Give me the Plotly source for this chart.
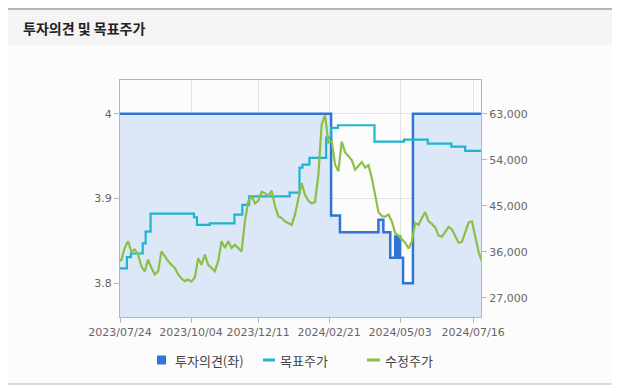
import plotly.graph_objects as go
import pandas as pd

# ---------------- data ----------------
opinion_dates = ["2023-07-24", "2024-02-23", "2024-03-03", "2024-04-11", "2024-04-16",
                 "2024-04-23", "2024-04-28", "2024-04-29", "2024-04-30", "2024-05-01",
                 "2024-05-02", "2024-05-03", "2024-05-06", "2024-05-16", "2024-07-24"]
opinion_values = [4.0, 3.88, 3.86, 3.875, 3.86,
                  3.83, 3.855, 3.83, 3.855, 3.83,
                  3.855, 3.83, 3.80, 4.0, 4.0]

target_dates = ["2023-07-24", "2023-07-31", "2023-08-04", "2023-08-16", "2023-08-19",
                "2023-08-24", "2023-10-07", "2023-10-10", "2023-10-23", "2023-11-17",
                "2023-11-25", "2023-12-02", "2024-01-12", "2024-01-22", "2024-01-25",
                "2024-02-01", "2024-02-18", "2024-02-23", "2024-03-01", "2024-04-07",
                "2024-05-07", "2024-05-31", "2024-06-24", "2024-07-08", "2024-07-24"]
target_values = [32800, 35000, 35700, 37700, 40000,
                 43500, 42800, 41300, 41600, 43300,
                 45200, 46900, 47600, 52500, 53100,
                 54400, 58400, 60300, 60800, 57600,
                 58000, 57200, 56600, 55800, 55800]

price_start = "2023-07-22"
price_end = "2024-07-25"
price_values = [34200, 34400, 36800, 38100, 36100, 36500, 35500, 33200, 32200, 34500,
                32900, 31600, 32200, 36100, 35200, 34200, 33500, 32900, 31600, 30800,
                30300, 30600, 30200, 31000, 34800, 33500, 35500, 33500, 32900, 32200,
                34200, 38100, 36800, 38100, 36800, 37400, 36800, 36100, 42000, 45900,
                47000, 45500, 46000, 47800, 47500, 47000, 48000, 45000, 43000, 42650,
                42000, 41700, 41300, 43300, 46600, 49500, 47200, 46000, 45500, 45800,
                51100, 61000, 62800, 57400, 57700, 53100, 51800, 57600, 55500, 54700,
                54000, 52100, 52800, 53600, 52500, 53000, 50500, 46800, 43800, 43000,
                42900, 43300, 42000, 39700, 39200, 38500, 37800, 36700, 38000, 41700,
                41300, 42650, 43800, 42000, 41500, 40800, 39200, 39000, 40000, 40900,
                40400, 39200, 37800, 38000, 40000, 41800, 42000, 38700, 36000, 34100]

x_tick_dates = ["2023-07-24", "2023-10-04", "2023-12-11", "2024-02-21", "2024-05-03", "2024-07-16"]
x_tick_labels = ["2023/07/24", "2023/10/04", "2023/12/11", "2024/02/21", "2024/05/03", "2024/07/16"]
left_ticks = [3.8, 3.9, 4.0]
left_tick_labels = ["3.8", "3.9", "4"]
right_ticks = [27000, 36000, 45000, 54000, 63000]
right_tick_labels = ["27,000", "36,000", "45,000", "54,000", "63,000"]

title_text = "투자의견 및 목표주가"
names = ["투자의견(좌)", "목표주가", "수정주가"]

# ---------------- styles ----------------
C_OPINION = "#2f74d6"
C_FILL = "#dce7f7"
C_TARGET = "#1cb5d0"
C_PRICE = "#8bbf45"
TICK_FONT = dict(family="DejaVu Sans", size=11, color="#666666")
KFONT = "Noto Sans CJK KR"

price_dates = pd.date_range(price_start, price_end, periods=len(price_values))

fig = go.Figure()

fig.add_trace(go.Scatter(
    x=opinion_dates, y=opinion_values, mode="lines", line=dict(color=C_OPINION, width=2.5, shape="hv"),
    fill="tozeroy", fillcolor=C_FILL, showlegend=False, name=names[0], yaxis="y"))

fig.add_trace(go.Scatter(
    x=target_dates, y=target_values, mode="lines", line=dict(color=C_TARGET, width=2.2, shape="hv"),
    showlegend=False, name=names[1], yaxis="y2"))

fig.add_trace(go.Scatter(
    x=price_dates, y=price_values, mode="lines", line=dict(color=C_PRICE, width=2.2),
    showlegend=False, name=names[2], yaxis="y2"))

# page has an 8px body margin; work in page pixel coordinates
OFF = 8
W, H = 621 - OFF, 389 - OFF
PL, PR, PT, PB = 120, 481, 80, 317          # plot box in page pixels
L, R, T, B = PL - OFF, W - (PR - OFF), PT - OFF, H - (PB - OFF)
pw, ph = W - L - R, H - T - B

def px2x(px):
    return (px - OFF - L) / pw

def py2y(py):
    return (H - B - (py - OFF)) / ph

shapes = [
    dict(type="rect", xref="paper", yref="paper", x0=px2x(8), x1=px2x(612), y0=py2y(45), y1=py2y(10),
         fillcolor="#f4f4f4", line=dict(width=0), layer="below"),
    dict(type="rect", xref="paper", yref="paper", x0=px2x(8), x1=px2x(612), y0=py2y(383), y1=py2y(45),
         fillcolor="#fcfcfc", line=dict(width=0), layer="below"),
    dict(type="line", xref="paper", yref="paper", x0=px2x(8), x1=px2x(612), y0=py2y(9), y1=py2y(9),
         line=dict(color="#b4b4b4", width=2)),
    dict(type="line", xref="paper", yref="paper", x0=px2x(8), x1=px2x(612), y0=py2y(384), y1=py2y(384),
         line=dict(color="#cfcfcf", width=1.5)),
    # legend symbols
    dict(type="rect", xref="paper", yref="paper", x0=px2x(157), x1=px2x(166), y0=py2y(364.5), y1=py2y(355.5),
         fillcolor=C_OPINION, line=dict(width=0)),
    dict(type="line", xref="paper", yref="paper", x0=px2x(263), x1=px2x(275), y0=py2y(360), y1=py2y(360),
         line=dict(color=C_TARGET, width=3)),
    dict(type="line", xref="paper", yref="paper", x0=px2x(367), x1=px2x(380), y0=py2y(360), y1=py2y(360),
         line=dict(color=C_PRICE, width=3)),
]

annotations = [
    dict(text="<b>" + title_text + "</b>", xref="paper", yref="paper",
         x=px2x(21), y=py2y(28), xanchor="left", yanchor="middle", showarrow=False,
         font=dict(family=KFONT, size=14, color="#222222")),
]
legend_text_x = [173, 278, 383]
for name, lx in zip(names, legend_text_x):
    annotations.append(dict(text=name, xref="paper", yref="paper", x=px2x(lx), y=py2y(360),
                            xanchor="left", yanchor="middle", showarrow=False,
                            font=dict(family=KFONT, size=13, color="#444444")))

fig.update_layout(
    width=W, height=H,
    margin=dict(l=L, r=R, t=T, b=B),
    paper_bgcolor="#ffffff",
    plot_bgcolor="#ffffff",
    shapes=shapes,
    annotations=annotations,
    xaxis=dict(type="date", range=["2023-07-24", "2024-07-24"], tickvals=x_tick_dates, ticktext=x_tick_labels,
               showgrid=True, gridcolor="#e3e3e3", gridwidth=1, showline=True, linecolor="#b5b5b5",
               mirror=True, ticks="outside", ticklen=5, tickcolor="#b5b5b5", tickfont=TICK_FONT,
               zeroline=False),
    yaxis=dict(range=[3.76, 4.04], tickvals=left_ticks, ticktext=left_tick_labels,
               showgrid=True, gridcolor="#e3e3e3", showline=True, linecolor="#b5b5b5",
               ticks="outside", ticklen=5, tickcolor="#b5b5b5", tickfont=TICK_FONT, zeroline=False),
    yaxis2=dict(range=[23280, 69650], tickvals=right_ticks, ticktext=right_tick_labels, overlaying="y",
                side="right", showgrid=False, showline=True, linecolor="#b5b5b5",
                ticks="outside", ticklen=5, tickcolor="#b5b5b5", tickfont=TICK_FONT, zeroline=False),
    showlegend=False,
)

fig.write_html("out.html")
